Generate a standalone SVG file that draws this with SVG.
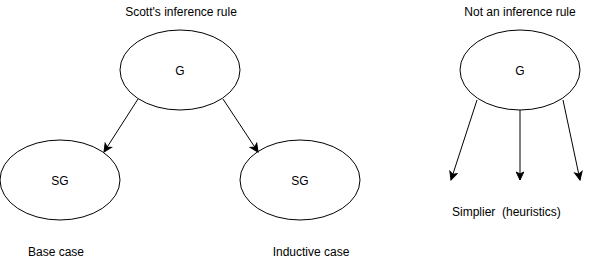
<svg xmlns="http://www.w3.org/2000/svg" width="601" height="261" viewBox="0 0 601 261">
  <style>
    .node ellipse { fill: #ffffff; stroke: #000000; stroke-width: 1; }
    text { font-family: "Liberation Sans", Arial, Helvetica, sans-serif; font-size: 12px; fill: #000000; }
    .c { text-anchor: middle; }
    .edge { stroke: #000000; stroke-width: 1; fill: none; marker-end: url(#arrow); }
  </style>
  <defs>
    <marker id="arrow" markerUnits="userSpaceOnUse" markerWidth="10" markerHeight="10" viewBox="0 0 10 10" refX="9" refY="5" orient="auto">
      <path d="M1,1.2 L9,5 L1,8.8 L3,5 Z" fill="#000000" stroke="#000000" stroke-width="1"/>
    </marker>
  </defs>
  <rect width="601" height="261" fill="#ffffff"/>

  <!-- left diagram -->
  <text x="181" y="15.5" class="c">Scott's inference rule</text>
  <g id="goal" class="node">
    <ellipse cx="180" cy="70" rx="60" ry="40"/>
    <text x="180" y="75" class="c">G</text>
  </g>
  <g id="base" class="node">
    <ellipse cx="60" cy="180" rx="60" ry="40"/>
    <text x="60" y="185" class="c">SG</text>
  </g>
  <g id="inductive" class="node">
    <ellipse cx="300" cy="180" rx="60" ry="40"/>
    <text x="300" y="185" class="c">SG</text>
  </g>
  <text x="56" y="255.5" class="c">Base case</text>
  <text x="311" y="255.5" class="c">Inductive case</text>

  <!-- right diagram -->
  <text x="520" y="15.5" class="c">Not an inference rule</text>
  <g id="goal2" class="node">
    <ellipse cx="520" cy="70" rx="60" ry="40"/>
    <text x="520" y="75" class="c">G</text>
  </g>
  <text x="452" y="215.5" xml:space="preserve" style="white-space: pre">Simplier  (heuristics)</text>

  <g id="connectors">
    <path class="edge" d="M138,99 L104,152"/>
    <path class="edge" d="M223,99 L258,152"/>
    <path class="edge" d="M477,100 L451,180"/>
    <path class="edge" d="M520,110 L520,180"/>
    <path class="edge" d="M563,100 L580,180"/>
  </g>
</svg>
